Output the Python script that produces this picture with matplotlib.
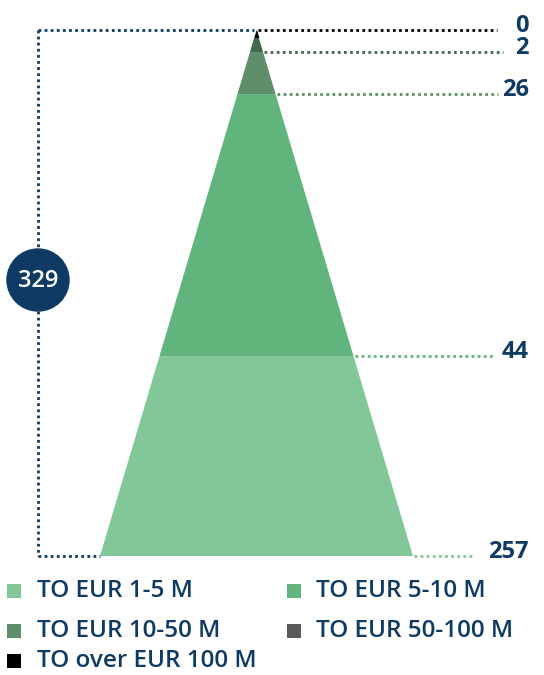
import matplotlib.pyplot as plt
from matplotlib.patches import Polygon, Circle, Rectangle

plt.rcParams['font.family'] = ['Open Sans', 'DejaVu Sans']

# data, bottom layer first
categories = ['TO EUR 1-5 M', 'TO EUR 5-10 M', 'TO EUR 10-50 M',
              'TO EUR 50-100 M', 'TO over EUR 100 M']
counts = [257, 44, 26, 2, 0]
# relative layer heights as drawn in the pyramid
layer_share = [0.380, 0.498, 0.080, 0.042, 0.0]
legend_colors = ['#82c798', '#62b47d', '#5e8f6a', '#5a5a5a', '#000000']
fill_colors = ['#82c798', '#62b47d', '#5e8f6a', '#3e6a4d', '#000000']
line_colors = ['#82c798', '#62b47d', '#5e8f6a', '#3e6a4d', '#000000']
total = sum(counts)

navy = '#0e3a63'

fig = plt.figure(figsize=(5.44, 6.75), dpi=100)
ax = fig.add_axes([0, 0, 1, 1])
ax.set_xlim(0, 544)
ax.set_ylim(675, 0)
ax.axis('off')

# pyramid geometry (pixels)
apex_x, apex_y = 257, 30
base_y = 556
base_l, base_r = 100, 413
H = base_y - apex_y


def half_width(y):
    return (y - apex_y) / H * (base_r - base_l) / 2


cx = (base_l + base_r) / 2
y_bottom = base_y
label_x = 529
line_end = [474, 494, 498, 503, 497]
for i, (cnt, share) in enumerate(zip(counts, layer_share)):
    y_top = y_bottom - share * H
    wb = half_width(y_bottom)
    wt = half_width(y_top)
    ax.add_patch(Polygon([(cx - wb, y_bottom), (cx + wb, y_bottom),
                          (cx + wt, y_top), (cx - wt, y_top)],
                         closed=True, color=fill_colors[i], lw=0))
    ax.plot([cx + wb + 1, line_end[i]], [y_bottom, y_bottom],
            color=line_colors[i], lw=2, ls=(0, (1, 1.2)))
    ax.text(label_x, y_bottom + 2, str(cnt), ha='right', va='baseline',
            fontsize=17, fontweight='bold', color=navy)
    y_bottom = y_top

# apex tip (top layer) drawn as small black tip
tip = 8
ax.add_patch(Polygon([(apex_x - half_width(apex_y + tip), apex_y + tip),
                      (apex_x + half_width(apex_y + tip), apex_y + tip),
                      (apex_x, apex_y)], closed=True, color='#000000', lw=0))

# total bracket
bx = 38
ax.plot([bx, bx], [apex_y, base_y], color=navy, lw=2, ls=(0, (1, 1.2)))
ax.plot([bx, apex_x - 3], [apex_y, apex_y], color=navy, lw=2, ls=(0, (1, 1.2)))
ax.plot([bx, base_l], [base_y, base_y], color=navy, lw=2, ls=(0, (1, 1.2)))
ax.add_patch(Circle((bx, 280), 31, color=navy, zorder=3))
ax.text(bx, 281, str(total), ha='center', va='center', fontsize=17,
        fontweight='semibold', color='white', zorder=4)

# legend
cols = [(7, 37), (287, 316)]
rows = [591, 631, 661]
for i, name in enumerate(categories):
    r, c = divmod(i, 2)
    sx, tx = cols[c]
    ax.add_patch(Rectangle((sx, rows[r] - 7), 14, 14, color=legend_colors[i], lw=0))
    ax.text(tx, rows[r], name, ha='left', va='center', fontsize=17.5,
            fontweight='semibold', color=navy)

fig.savefig('out.png', dpi=100)
